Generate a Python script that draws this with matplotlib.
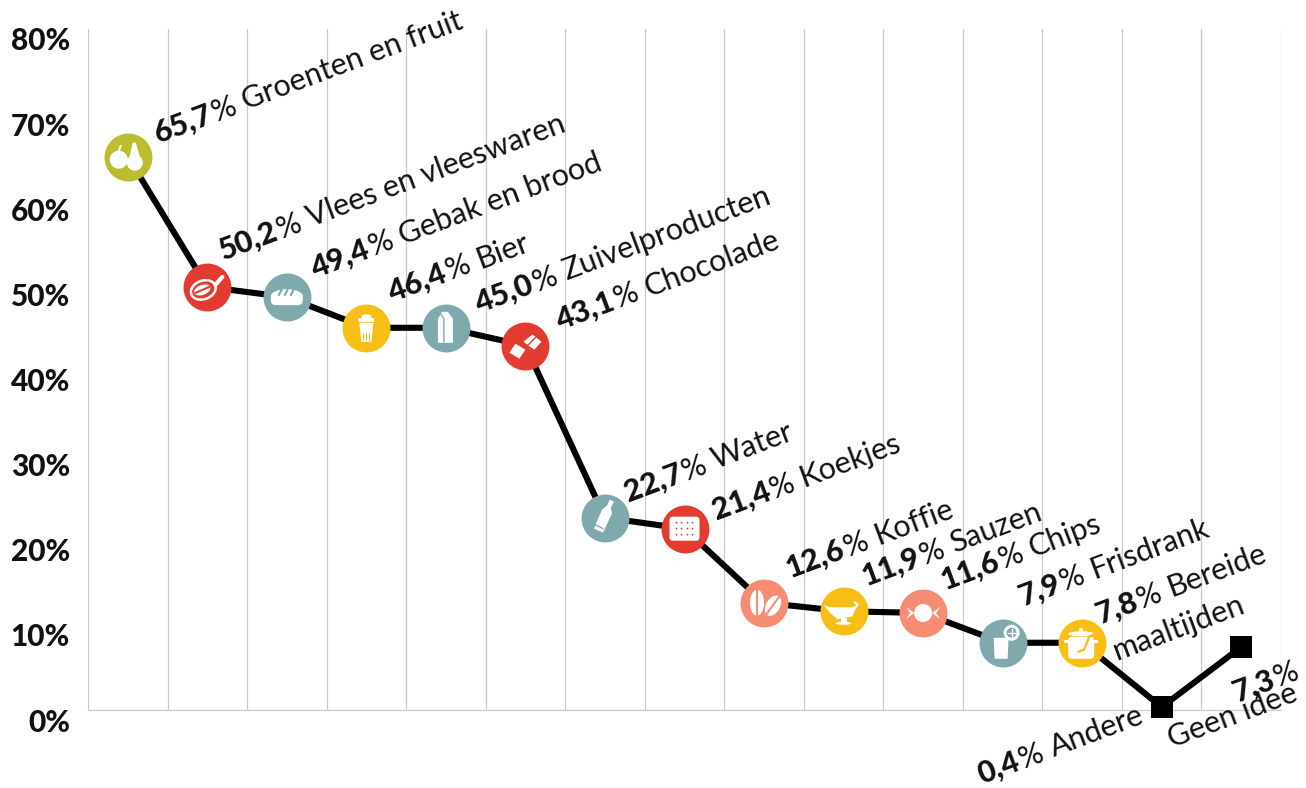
import matplotlib
matplotlib.use("Agg")
import matplotlib.pyplot as plt
from matplotlib.patches import Circle, Ellipse, Rectangle, Polygon, FancyBboxPatch
from matplotlib.lines import Line2D
from matplotlib.transforms import ScaledTranslation, IdentityTransform
import math

categories = ["Groenten en fruit", "Vlees en vleeswaren", "Gebak en brood", "Bier", "Zuivelproducten",
              "Chocolade", "Water", "Koekjes", "Koffie", "Sauzen", "Chips", "Frisdrank",
              "Bereide", "Andere", "Geen idee"]
value_labels = ["65,7", "50,2", "49,4", "46,4", "45,0", "43,1", "22,7", "21,4", "12,6",
                "11,9", "11,6", "7,9", "7,8", "0,4", "7,3"]
# height of each mark as drawn on the axis
plotted = [65.0, 49.7, 48.5, 44.9, 44.9, 42.8, 22.6, 21.3, 12.6, 11.6, 11.4, 7.9, 7.9, 0.35, 7.4]
yticks = [0, 10, 20, 30, 40, 50, 60, 70, 80]
ytick_labels = ["0%", "10%", "20%", "30%", "40%", "50%", "60%", "70%", "80%"]

OLIVE, RED, TEAL, YEL, SAL = "#BBBD2F", "#E33B30", "#7FA9AD", "#F7BF16", "#F68D72"
colors = [OLIVE, RED, TEAL, YEL, TEAL, RED, TEAL, RED, SAL, YEL, SAL, TEAL, YEL, None, None]

W, H = 1306, 788
FONT = "Lato"
INK = "#111111"
fig = plt.figure(figsize=(W / 100, H / 100), dpi=100)
ax = fig.add_axes([88 / W, 1 - 710 / H, (1281 - 88) / W, (710 - 29) / H])
ax.set_xlim(-0.5, 14.5)
ax.set_ylim(0, 80)
for s in ax.spines.values():
    s.set_visible(False)
ax.set_xticks([])
ax.set_yticks(yticks)
ax.set_yticklabels(ytick_labels, fontfamily=FONT, fontweight="black", fontsize=21.5, color=INK)
ax.tick_params(axis="y", length=0, pad=13)
shift = ScaledTranslation(0, -10, IdentityTransform())
for lab in ax.get_yticklabels():
    lab.set_transform(lab.get_transform() + shift)
for k in range(16):
    ax.axvline(k - 0.5, color="#c9c9c9", lw=0.9, zorder=1)
ax.axhline(0, color="#c9c9c9", lw=0.9, zorder=1, clip_on=False)

xs = list(range(len(plotted)))
ax.plot(xs, plotted, color="black", lw=4.4, zorder=3, solid_joinstyle="miter", clip_on=False)
for i, c in enumerate(colors):
    if c is None:
        ax.plot([i], [plotted[i]], marker="s", ms=15.5, color="black", mew=0, zorder=4, clip_on=False)
    else:
        ax.plot([i], [plotted[i]], marker="o", ms=34.5, color=c, mew=0, zorder=4, clip_on=False)


class Ic:
    def __init__(self, i):
        self.tr = ScaledTranslation(i, plotted[i], ax.transData)
        self.bg = colors[i]

    def add(self, p, col):
        p.set(transform=self.tr, facecolor=col, edgecolor="none", zorder=5, clip_on=False)
        ax.add_patch(p)

    def c(self, x, y, r, bg=False):
        self.add(Circle((x, y), r), self.bg if bg else "white")

    def e(self, x, y, w, h, a=0, bg=False):
        self.add(Ellipse((x, y), w, h, angle=a), self.bg if bg else "white")

    def r(self, x, y, w, h, bg=False):
        self.add(Rectangle((x, y), w, h), self.bg if bg else "white")

    def p(self, pts, bg=False):
        self.add(Polygon(pts, closed=True), self.bg if bg else "white")

    def l(self, pts, lw=1.5, bg=False):
        ln = Line2D([q[0] for q in pts], [q[1] for q in pts], color=self.bg if bg else "white",
                    lw=lw, transform=self.tr, zorder=5, clip_on=False, solid_capstyle="round")
        ax.add_line(ln)


def icons():
    a = Ic(0)  # apple and pear
    a.c(-9, -3, 9); a.l([(-9, 6), (-7, 11)], 1.5)
    a.e(7, -6, 16, 16); a.p([(1, -3), (13, -3), (8, 14), (5, 14)])
    b = Ic(1)  # ham
    b.e(-4, -3, 28, 21, 20); b.e(-4, -3, 23, 16, 20, bg=True); b.e(-5, -3, 17, 10, 20)
    b.l([(-12, -6), (2, 0)], 1.5, bg=True); b.l([(8, 2), (15, 10)], 3)
    c = Ic(2)  # bread
    c.add(FancyBboxPatch((-16, -8), 32, 12, boxstyle="round,pad=0,rounding_size=5"), "white")
    c.e(0, 1, 32, 14)
    for dx in (-6, 0, 6):
        c.l([(dx - 2, 2), (dx + 1, 8)], 1.5, bg=True)
    d = Ic(3)  # beer
    d.p([(-7, 5), (7, 5), (5, -14), (-5, -14)]); d.r(-8, 6, 16, 4); d.e(0, 11, 10, 5)
    for dx in (-3, 0, 3):
        d.l([(dx, -5), (dx, -12)], 0.8, bg=True)
    e = Ic(4)  # milk carton
    e.p([(-8, -15), (7, -15), (7, 9), (2, 16), (-4, 16), (-8, 9)])
    e.l([(-2, -14), (-2, 9), (-6, 15)], 1, bg=True)
    f = Ic(5)  # chocolate
    f.p([(-16, -7), (-10, 2), (0, -4), (-6, -13)])
    f.p([(-2, 4), (7, 11), (10, 9), (2, 1)]); f.p([(3, 0), (11, 8), (16, 4), (9, -4)])
    g = Ic(6)  # bottle
    g.p([(-11, -11), (-2, -15), (7, 4), (6, 10), (9, 16), (5, 18), (2, 12), (-3, 8)])
    g.l([(-10, -7), (-2, -11)], 1, bg=True)
    h = Ic(7)  # biscuit
    h.add(FancyBboxPatch((-15, -12), 30, 24, boxstyle="round,pad=0,rounding_size=3"), "white")
    for px in (-8, -3, 3, 8):
        for py in (-6, 0, 6):
            h.c(px, py, 0.9, bg=True)
    k = Ic(8)  # coffee beans
    k.e(-7, 0, 14, 26); k.l([(-7, -13), (-7, 13)], 1.5, bg=True)
    k.e(9, -3, 14, 22, -30); k.l([(2, -12), (15, 6)], 1.5, bg=True)
    m = Ic(9)  # sauce boat
    m.p([(-20, 6), (-12, 4), (9, 4), (13, 6), (9, -5), (-6, -8), (-13, -2)])
    m.e(0, -12, 16, 3); m.r(-3, -12, 6, 5); m.l([(11, 2), (14, 7), (11, 9)], 1.5)
    n = Ic(10)  # candy
    n.c(0, 0, 9); n.p([(-17, 6), (-9, 0), (-17, -6), (-13, 0)]); n.p([(17, 6), (9, 0), (17, -6), (13, 0)])
    o = Ic(11)  # glass and citrus
    o.p([(-9, 5), (6, 5), (5, -16), (-8, -16)])
    o.c(9, 10, 8); o.c(9, 10, 5, bg=True); o.l([(5, 10), (13, 10)], 1); o.l([(9, 6), (9, 14)], 1)
    q = Ic(12)  # pot
    q.add(FancyBboxPatch((-14, -16), 26, 22, boxstyle="round,pad=0,rounding_size=4"), "white")
    q.e(-1, 9, 26, 5); q.c(-1, 13, 2); q.r(-18, 0, 4, 3); q.r(12, 0, 4, 3)
    q.l([(-4, -9), (2, -7), (7, 6), (13, 9)], 1.6, bg=True)


icons()

ANGLE = 20.5
VSIZE = 22
ident = IdentityTransform()
RENDER = fig.canvas.get_renderer()


def piece(x, Y, s, weight, angle):
    t = fig.text(x, Y, s, transform=ident, fontfamily=FONT, fontweight=weight, fontsize=VSIZE, color=INK,
                 rotation=0, rotation_mode="anchor", ha="left", va="baseline")
    w = t.get_window_extent(RENDER).width
    t.set_rotation(angle)
    return w


def label(x, y, val, name, angle=ANGLE):
    """x, y: image pixels of the left baseline end of the text."""
    Y = H - y
    th = math.radians(angle)
    cs, sn = math.cos(th), math.sin(th)
    w = piece(x, Y, val, "black", angle) + 1
    w2 = piece(x + w * cs, Y + w * sn, "%", "normal", angle) + 8
    if name:
        d = w + w2
        piece(x + d * cs, Y + d * sn, name, "normal", angle)


starts = [(158, 143), (223, 260), (315, 278), (392, 302), (479, 313), (560, 330), (628, 502), (716, 520),
          (790, 578), (866, 586), (945, 590), (1023, 606), (1100, 624), (982, 784), None]
for i, st in enumerate(starts):
    if st:
        label(st[0], st[1], value_labels[i], categories[i])
piece(1117, H - 660, "maaltijden", "normal", ANGLE)
label(1237, 702, value_labels[14], "")
piece(1172, H - 748, categories[14], "normal", ANGLE)

fig.savefig("out.png", dpi=100)
